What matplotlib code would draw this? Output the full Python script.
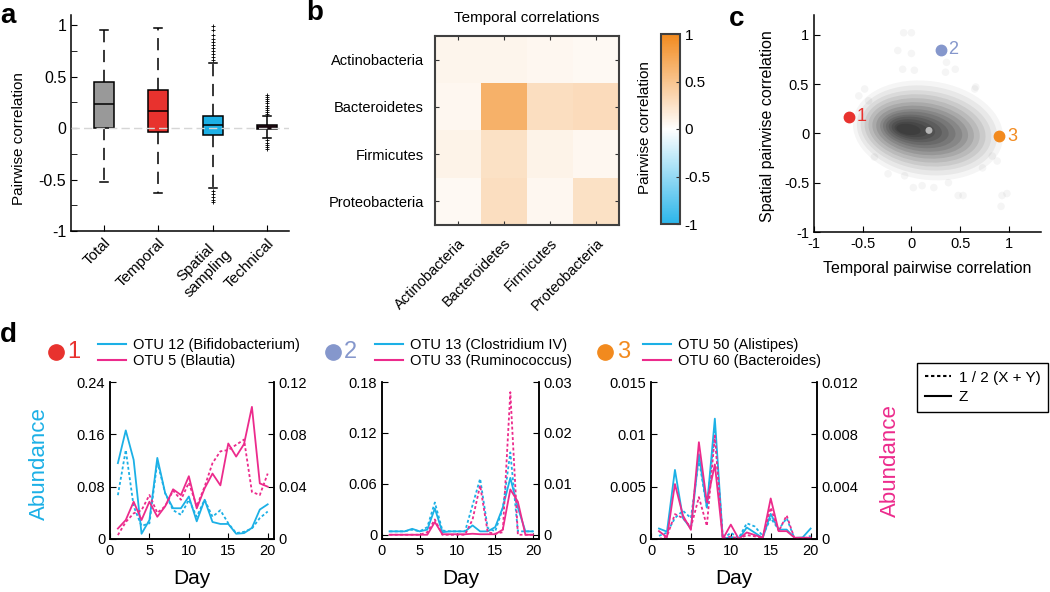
import numpy as np
import matplotlib.pyplot as plt
from matplotlib.colors import LinearSegmentedColormap
from matplotlib.patches import Ellipse
from matplotlib.lines import Line2D

plt.rcParams['font.family'] = ['Liberation Sans', 'DejaVu Sans']
plt.rcParams['axes.linewidth'] = 1.1

BLUE = '#1cb0e6'
PINK = '#ec2b8c'
RED = '#e8322e'
SLATE = '#8597cc'
ORANGE = '#f28a1e'

# ---- panel a : boxplot summary
box_names = ['Total', 'Temporal', 'Spatial\nsampling', 'Technical']
box_colors = ['#999999', '#e8322e', '#1cb0e6', '#6a2440']
box_med = [0.23, 0.17, 0.03, 0.01]
box_q1 = [0.0, -0.04, -0.065, -0.012]
box_q3 = [0.45, 0.37, 0.115, 0.03]
box_lo = [-0.52, -0.63, -0.58, -0.097]
box_hi = [0.95, 0.97, 0.635, 0.118]
box_fliers = [
    [],
    [],
    [0.66, 0.69, 0.72, 0.75, 0.78, 0.81, 0.84, 0.87, 0.91, 0.95, 0.99,
     -0.61, -0.64, -0.67, -0.70, -0.72],
    [0.14, 0.16, 0.18, 0.20, 0.22, 0.24, 0.26, 0.28, 0.30, 0.32,
     -0.12, -0.14, -0.16, -0.18, -0.20],
]

# ---- panel b : phylum correlation matrix
phyla = ['Actinobacteria', 'Bacteroidetes', 'Firmicutes', 'Proteobacteria']
phyla_corr = [
    [0.08, 0.08, 0.07, 0.05],
    [0.07, 0.66, 0.28, 0.30],
    [0.10, 0.25, 0.10, 0.07],
    [0.05, 0.28, 0.07, 0.25],
]

# ---- panel c : temporal vs spatial cloud (density layers)
cloud_cx = [0.17, 0.16, 0.15, 0.14, 0.13, 0.12, 0.11, 0.10, 0.08, 0.06, 0.04, 0.02, 0.0, -0.03]
cloud_cy = [0.03, 0.03, 0.03, 0.03, 0.03, 0.03, 0.03, 0.03, 0.035, 0.035, 0.04, 0.04, 0.04, 0.04]
cloud_w = [1.55, 1.45, 1.35, 1.25, 1.15, 1.05, 0.95, 0.85, 0.75, 0.65, 0.55, 0.45, 0.35, 0.25]
cloud_h = [1.00, 0.90, 0.80, 0.72, 0.64, 0.56, 0.49, 0.42, 0.36, 0.30, 0.25, 0.20, 0.15, 0.11]
cloud_alpha = [0.04, 0.05, 0.06, 0.07, 0.08, 0.09, 0.10, 0.10, 0.11, 0.11, 0.12, 0.12, 0.12, 0.12]
outlier_x = [-0.08, 0.0, -0.14, 0.0, -0.09, 0.03, 0.36, 0.45, 0.35, 0.65, -0.48, 0.93, 0.98,
             0.92, 0.53, 0.48, 0.02, 0.11, -0.07, -0.38, 0.83, 0.88, -0.54, -0.44, 0.23,
             0.38, -0.24, 0.73, 0.66]
outlier_y = [1.02, 1.02, 0.84, 0.81, 0.65, 0.64, 0.72, 0.65, 0.62, 0.45, 0.45, -0.63, -0.61,
             -0.74, -0.63, -0.63, -0.55, -0.53, -0.43, -0.24, -0.23, -0.28, 0.38, 0.33, -0.55,
             -0.5, -0.41, -0.35, 0.47]
pick_x = [-0.64, 0.30, 0.90]
pick_y = [0.17, 0.85, -0.03]
pick_names = ['1', '2', '3']
pick_colors = [RED, SLATE, ORANGE]

# ---- panel d : time series
days = list(range(1, 21))
d1_names = ['OTU 12 (Bifidobacterium)', 'OTU 5 (Blautia)']
d1_blue_z = [0.116, 0.166, 0.121, 0.008, 0.029, 0.124, 0.070, 0.047, 0.047, 0.065,
             0.027, 0.060, 0.026, 0.023, 0.023, 0.008, 0.009, 0.017, 0.045, 0.053]
d1_blue_xy = [0.067, 0.136, 0.050, 0.020, 0.024, 0.118, 0.070, 0.044, 0.037, 0.060,
              0.034, 0.060, 0.034, 0.044, 0.024, 0.009, 0.011, 0.016, 0.032, 0.042]
d1_pink_z = [0.008, 0.0145, 0.0285, 0.0145, 0.0285, 0.017, 0.025, 0.038, 0.0336, 0.048,
             0.0234, 0.0387, 0.050, 0.041, 0.073, 0.063, 0.0726, 0.101, 0.0425, 0.040]
d1_pink_xy = [0.003, 0.013, 0.0196, 0.022, 0.0336, 0.020, 0.025, 0.037, 0.030, 0.043,
              0.025, 0.040, 0.058, 0.067, 0.068, 0.072, 0.076, 0.036, 0.0336, 0.050]

d2_names = ['OTU 13 (Clostridium IV)', 'OTU 33 (Ruminococcus)']
d2_blue_z = [0.004, 0.004, 0.004, 0.007, 0.004, 0.006, 0.031, 0.003, 0.004, 0.004,
             0.004, 0.011, 0.004, 0.004, 0.009, 0.032, 0.067, 0.032, 0.004, 0.004]
d2_blue_xy = [0.004, 0.004, 0.004, 0.006, 0.004, 0.009, 0.038, 0.005, 0.004, 0.004,
              0.004, 0.035, 0.066, 0.008, 0.004, 0.031, 0.097, 0.004, 0.004, 0.004]
d2_pink_z = [0.0, 0.0, 0.0, 0.0, 0.0, 0.0, 0.0025, 0.0001, 0.0001, 0.0001,
             0.0001, 0.0002, 0.0001, 0.0001, 0.0001, 0.001, 0.0089, 0.0065, 0.0, 0.0]
d2_pink_xy = [0.0, 0.0, 0.0, 0.0, 0.0, 0.0005, 0.003, 0.0, 0.0, 0.0,
              0.0, 0.003, 0.0097, 0.0005, 0.0002, 0.0005, 0.028, 0.0, 0.0, 0.0]

d3_names = ['OTU 50 (Alistipes)', 'OTU 60 (Bacteroides)']
d3_blue_z = [0.001, 0.0007, 0.0066, 0.002, 0.001, 0.0081, 0.003, 0.0115, 0.0, 0.0002,
             0.0, 0.0011, 0.0006, 0.0001, 0.0024, 0.0009, 0.0009, 0.0001, 0.00015, 0.001]
d3_blue_xy = [0.0003, 0.0006, 0.002, 0.0027, 0.002, 0.0076, 0.003, 0.0103, 0.0, 0.0006,
              0.0001, 0.0015, 0.0012, 0.0003, 0.002, 0.0009, 0.002, 0.0, 0.0, 0.0003]
d3_pink_z = [0.0006, 0.00013, 0.0042, 0.0018, 0.0007, 0.0074, 0.0028, 0.0057, 0.0, 0.0011,
             0.0, 0.0005, 0.0003, 0.0001, 0.0031, 0.0006, 0.0006, 0.0001, 0.0001, 0.0001]
d3_pink_xy = [0.0, 0.0002, 0.0019, 0.0016, 0.0009, 0.0032, 0.001, 0.0079, 0.0, 0.0002,
              0.0, 0.0003, 0.0002, 0.0001, 0.0024, 0.0006, 0.0018, 0.0, 0.0, 0.0001]

d_left_ticks = [[0, 0.08, 0.16, 0.24], [0, 0.06, 0.12, 0.18], [0, 0.005, 0.01, 0.015]]
d_left_labels = [['0', '0.08', '0.16', '0.24'], ['0', '0.06', '0.12', '0.18'],
                 ['0', '0.005', '0.01', '0.015']]
d_right_ticks = [[0, 0.04, 0.08, 0.12], [0, 0.01, 0.02, 0.03], [0, 0.004, 0.008, 0.012]]
d_right_labels = [['0', '0.04', '0.08', '0.12'], ['0', '0.01', '0.02', '0.03'],
                  ['0', '0.004', '0.008', '0.012']]


def px_axes(fig, x0, y0, x1, y1):
    W, H = 1050, 592
    return fig.add_axes([x0 / W, 1 - y1 / H, (x1 - x0) / W, (y1 - y0) / H])


fig = plt.figure(figsize=(10.5, 5.92), dpi=100)

# ================= a
ax = px_axes(fig, 71, 15, 289, 231)
stats = []
for i in range(4):
    stats.append(dict(med=box_med[i], q1=box_q1[i], q3=box_q3[i], whislo=box_lo[i],
                      whishi=box_hi[i], fliers=box_fliers[i], label=box_names[i]))
bp = ax.bxp(stats, positions=[1, 2, 3, 4], widths=0.37, capwidths=0.15, patch_artist=True,
            whiskerprops=dict(color='black', lw=1.1, linestyle=(0, (8, 5))),
            capprops=dict(color='black', lw=1.1),
            medianprops=dict(color='black', lw=1.1),
            boxprops=dict(edgecolor='black', lw=1.1),
            flierprops=dict(marker='+', markersize=2.5, markeredgecolor='black', markeredgewidth=0.6))
for patch, c in zip(bp['boxes'], box_colors):
    patch.set_facecolor(c)
ax.axhline(0, color='#d6d6d6', lw=1, ls=(0, (6, 3)), zorder=5)
ax.set_xlim(0.4, 4.4)
ax.set_ylim(-1, 1.1)
ax.set_yticks([-1, -0.5, 0, 0.5, 1])
ax.set_yticklabels(['-1', '-0.5', '0', '0.5', '1'], fontsize=11.5)
ax.set_yticks([-0.75, -0.25, 0.25, 0.75], minor=True)
ax.set_xticks([1, 2, 3, 4])
ax.set_xticklabels(box_names, rotation=45, ha='right', rotation_mode='anchor', fontsize=11,
                   multialignment='center')
ax.tick_params(direction='in', length=4)
ax.tick_params(which='minor', direction='in', length=4)
ax.spines['top'].set_visible(False)
ax.spines['right'].set_visible(False)
ax.set_ylabel('Pairwise correlation', fontsize=11)
ax.yaxis.set_label_coords(-0.206, 0.43)

# ================= b
cmap = LinearSegmentedColormap.from_list('bwo', ['#2bb5ea', '#ffffff', ORANGE])
ax = px_axes(fig, 435, 36, 619, 225)
im = ax.imshow(np.array(phyla_corr), cmap=cmap, vmin=-1, vmax=1, aspect='auto')
ax.set_xticks(range(4))
ax.set_yticks(range(4))
ax.set_xticklabels(phyla, rotation=45, ha='right', rotation_mode='anchor', fontsize=10.5)
ax.set_yticklabels(phyla, fontsize=10.5)
ax.tick_params(direction='in', length=3, top=True, right=True, pad=8, color='#333333')
for s in ax.spines.values():
    s.set_color('#404040')
    s.set_linewidth(1.5)
ax.set_title('Temporal correlations', fontsize=11, pad=10)
cax = px_axes(fig, 661, 34, 680, 224)
cb = fig.colorbar(im, cax=cax)
cb.set_ticks([-1, -0.5, 0, 0.5, 1])
cb.set_ticklabels(['-1', '-0.5', '0', '0.5', '1'])
cax.tick_params(direction='in', length=3, labelsize=11, color='#333333')
cb.outline.set_edgecolor('#404040')
cb.outline.set_linewidth(1.5)
cax.yaxis.set_label_position('left')
cax.set_ylabel('Pairwise correlation', fontsize=11)
cax.yaxis.set_label_coords(-0.47, 0.505)

# ================= c
ax = px_axes(fig, 814, 15, 1041, 232)
for cx, cy, w, h, a in zip(cloud_cx, cloud_cy, cloud_w, cloud_h, cloud_alpha):
    ax.add_patch(Ellipse((cx, cy), w, h, angle=-8, facecolor='black', edgecolor='none', alpha=a))
ax.scatter(outlier_x, outlier_y, s=30, color='black', alpha=0.04, edgecolors='none')
ax.scatter([0.18], [0.03], s=25, color='#b5b5b5', edgecolors='none')
for x, y, n, c in zip(pick_x, pick_y, pick_names, pick_colors):
    ax.plot(x, y, 'o', ms=7.5, color=c, zorder=5)
    ax.text(x + 0.08, y, n, color=c, fontsize=13, va='center', ha='left')
ax.set_xlim(-1, 1.33)
ax.set_ylim(-1, 1.2)
ax.set_xticks([-1, -0.5, 0, 0.5, 1])
ax.set_xticklabels(['-1', '-0.5', '0', '0.5', '1'], fontsize=10.5)
ax.set_yticks([-1, -0.5, 0, 0.5, 1])
ax.set_yticklabels(['-1', '-0.5', '0', '0.5', '1'], fontsize=10.5)
ax.tick_params(direction='in', length=4)
ax.spines['top'].set_visible(False)
ax.spines['right'].set_visible(False)
ax.set_xlabel('Temporal pairwise correlation', fontsize=11.5)
ax.xaxis.set_label_coords(0.5, -0.135)
ax.set_ylabel('Spatial pairwise correlation', fontsize=11.5)
ax.yaxis.set_label_coords(-0.17, 0.49)

# ================= d
d_boxes = [(110, 274), (382, 539), (651, 817)]
d_blue_z = [d1_blue_z, d2_blue_z, d3_blue_z]
d_blue_xy = [d1_blue_xy, d2_blue_xy, d3_blue_xy]
d_pink_z = [d1_pink_z, d2_pink_z, d3_pink_z]
d_pink_xy = [d1_pink_xy, d2_pink_xy, d3_pink_xy]
d_names = [d1_names, d2_names, d3_names]
d_ylow = [0.0, -0.005, 0.0]
circle_x = [-0.33, -0.31, -0.277]
legend_x = [-0.073, -0.045, -0.048]
dotted = (0, (1.6, 1.3))

for i in range(3):
    x0, x1 = d_boxes[i]
    ax = px_axes(fig, x0, 382, x1, 539)
    ax2 = ax.twinx()
    ax.plot(days, d_blue_xy[i], color=BLUE, lw=1.3, ls=dotted)
    ax.plot(days, d_blue_z[i], color=BLUE, lw=1.3)
    ax2.plot(days, d_pink_xy[i], color=PINK, lw=1.3, ls=dotted)
    ax2.plot(days, d_pink_z[i], color=PINK, lw=1.3)
    top_l = d_left_ticks[i][-1]
    top_r = d_right_ticks[i][-1]
    ax.set_ylim(d_ylow[i], top_l)
    ax2.set_ylim(d_ylow[i] * top_r / top_l, top_r)
    ax.set_xlim(0, 20.8)
    ax.set_xticks([0, 5, 10, 15, 20])
    ax.set_xticklabels(['0', '5', '10', '15', '20'], fontsize=10.5)
    ax.set_yticks(d_left_ticks[i])
    ax.set_yticklabels(d_left_labels[i], fontsize=10.5)
    ax2.set_yticks(d_right_ticks[i])
    ax2.set_yticklabels(d_right_labels[i], fontsize=10.5)
    ax.tick_params(direction='in', length=4)
    ax2.tick_params(direction='in', length=4)
    for a in (ax, ax2):
        a.spines['top'].set_visible(False)
    ax.set_xlabel('Day', fontsize=15)
    ax.xaxis.set_label_coords(0.5, -0.19)
    h = [Line2D([], [], color=BLUE, lw=1.5), Line2D([], [], color=PINK, lw=1.5)]
    ax.legend(h, d_names[i], loc='center left', bbox_to_anchor=(legend_x[i], 1.185),
              frameon=False, fontsize=10.5, handlelength=1.9, handletextpad=0.5,
              borderpad=0, borderaxespad=0, labelspacing=0.1)
    ax.plot(circle_x[i], 1.19, 'o', ms=11, color=pick_colors[i], transform=ax.transAxes,
            clip_on=False)
    ax.text(circle_x[i] + 0.07, 1.19, pick_names[i], color=pick_colors[i], fontsize=17,
            transform=ax.transAxes, va='center', ha='left')
    if i == 0:
        ax.set_ylabel('Abundance', fontsize=16, color=BLUE)
        ax.yaxis.set_label_coords(-0.366, 0.48)
    if i == 2:
        ax2.set_ylabel('Abundance', fontsize=16, color=PINK)
        ax2.yaxis.set_label_coords(1.38, 0.5)

key = [Line2D([], [], color='black', lw=1.5, ls=dotted), Line2D([], [], color='black', lw=1.5)]
fig.legend(key, ['1 / 2 (X + Y)', 'Z'], loc='upper right',
           bbox_to_anchor=(1048 / 1050, 1 - 363 / 592), fontsize=11, fancybox=False,
           edgecolor='black', framealpha=1, handlelength=1.7, handletextpad=0.5,
           borderpad=0.5, borderaxespad=0, labelspacing=0.35)

# panel letters
for letter, x, y in [('a', 0, 3), ('b', 306, 0), ('c', 729, 6), ('d', 0, 322)]:
    fig.text(x / 1050, 1 - y / 592, letter, fontsize=20, weight='bold', va='top', ha='left')

fig.savefig('out.png', dpi=100)
